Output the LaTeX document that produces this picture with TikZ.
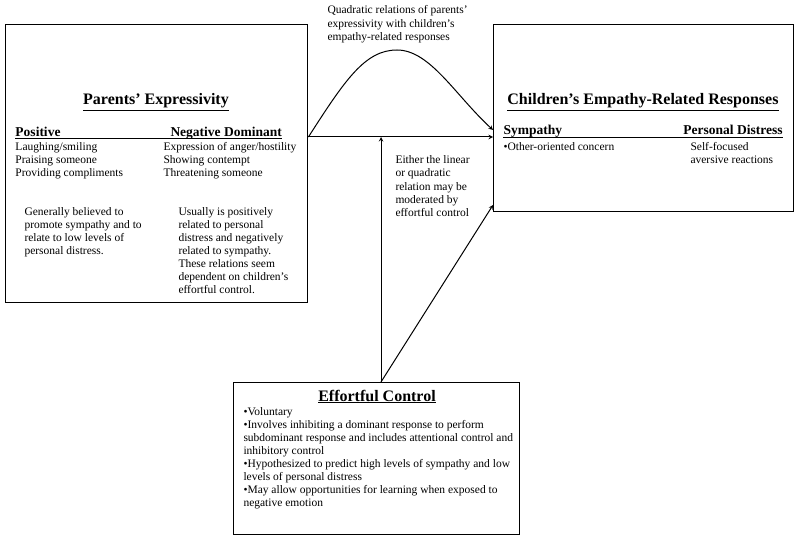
\documentclass[tikz,border=0pt]{standalone}
\usepackage{fontspec}
\setmainfont{Liberation Serif}

\tikzset{every picture/.style={line width=1pt}}
\tikzset{
  box/.style={draw, line width=1.4pt, inner sep=0pt, anchor=north west},
  txt/.style={anchor=north west, inner sep=0pt, align=left, font=\fontsize{11.5}{13}\selectfont},
  head/.style={anchor=base west, inner sep=0pt, font=\fontsize{13.5}{16}\selectfont\bfseries},
  title/.style={anchor=base, inner sep=0pt, font=\fontsize{16}{19}\selectfont\bfseries},
  link/.style={->, >=stealth, line width=1pt},
}

\begin{document}
\begin{tikzpicture}[x=1pt,y=1pt,yscale=-1,xscale=1]
\useasboundingbox (0,0) rectangle (800,540);

%Shape: Rectangle [parents]
\node[box, minimum width=302, minimum height=278] (parents) at (5,24) {};
%Shape: Rectangle [kids]
\node[box, minimum width=300, minimum height=187] (kids) at (493,24) {};
%Shape: Rectangle [effort]
\node[box, minimum width=286, minimum height=152] (effort) at (233,382) {};

% Text Node
\node[title] (ptitle) at (156,105) {\underline{Parents' Expressivity}};
% Text Node
\node[head] (pos) at (15,137) {Positive};
% Text Node
\node[head] (neg) at (170,137) {Negative Dominant};
% Text Node
\node[txt] (poslist) at (15,142) {Laughing/smiling\\Praising someone\\Providing compliments};
% Text Node
\node[txt] (neglist) at (163,142) {Expression of anger/hostility\\Showing contempt\\Threatening someone};
% Text Node
\node[txt] (posnote) at (24,207) {Generally believed to\\promote sympathy and to\\relate to low levels of\\personal distress.};
% Text Node
\node[txt] (negnote) at (178,207) {Usually is positively\\related to personal\\distress and negatively\\related to sympathy.\\These relations seem\\dependent on children's\\effortful control.};

% Text Node
\node[title] (ktitle) at (643,105) {\underline{Children's Empathy-Related Responses}};
% Text Node
\node[head] (sym) at (503,135) {Sympathy};
% Text Node
\node[head, anchor=base east] (dis) at (783,135) {Personal Distress};
% Text Node
\node[txt] (symlist) at (503,142) {\textbullet Other-oriented concern};
% Text Node
\node[txt] (dislist) at (690,142) {Self-focused\\aversive reactions};

% Text Node
\node[title] (etitle) at (377,401) {\underline{Effortful Control}};
% Text Node
\node[txt] (elist) at (243,407) {\textbullet Voluntary\\
\textbullet Involves inhibiting a dominant response to perform\\
subdominant response and includes attentional control and\\
inhibitory control\\
\textbullet Hypothesized to predict high levels of sympathy and low\\
levels of personal distress\\
\textbullet May allow opportunities for learning when exposed to\\
negative emotion};

% Text Node
\node[txt, font=\fontsize{11.5}{13.5}\selectfont] (qnote) at (327,5) {Quadratic relations of parents'\\expressivity with children's\\empathy-related responses};
% Text Node
\node[txt, font=\fontsize{11.5}{13.3}\selectfont] (mnote) at (395,155) {Either the linear\\or quadratic\\relation may be\\moderated by\\effortful control};

\coordinate (hl) at (0,139);
\coordinate (hr) at (0,138);
\coordinate (lin) at (0,137);
\coordinate (quad) at (0,130);
\coordinate (diag) at (0,205);
\coordinate (mod) at (381,0);
\coordinate (top) at (397,50);

%Straight Lines
\draw (pos.west |- hl) -- (neg.east |- hl);
%Straight Lines
\draw (sym.west |- hr) -- (dis.east |- hr);

%Straight Lines
\draw[link] (parents.east |- lin) -- (kids.west |- lin);
%Curve Lines
\draw[link] (parents.east |- lin) .. controls (345,80) and (365,50) .. (top)
  .. controls (430,50) and (455,95) .. (kids.west |- quad);
%Straight Lines
\draw[link] (effort.north -| mod) -- (mod |- lin);
%Straight Lines
\draw[link] (effort.north -| mod) -- (kids.west |- diag);

\end{tikzpicture}
\end{document}
